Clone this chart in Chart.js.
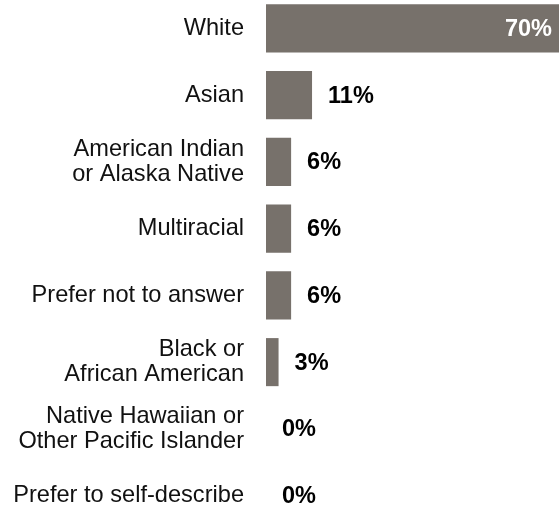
<!DOCTYPE html>
<html lang="en">

<head>
    <meta charset="UTF-8">
    <title>Race / Ethnicity</title>
    <style>
        html, body {
            margin: 0;
            padding: 0;
            background: #fff;
            overflow: hidden;
        }

        #wrap {
            position: absolute;
            left: 0;
            top: -5px;
            width: 559px;
            height: 534px;
        }
    </style>
</head>

<body>
    <div id="wrap">
        <canvas id="race_chart"></canvas>
    </div>

    <script src="https://cdn.jsdelivr.net/npm/chart.js@4/dist/chart.umd.min.js"></script>
    <script>
        const categories = [
            "White",
            "Asian",
            ["American Indian", "or Alaska Native"],
            "Multiracial",
            "Prefer not to answer",
            ["Black or", "African American"],
            ["Native Hawaiian or", "Other Pacific Islander"],
            "Prefer to self-describe"
        ];
        const percents = [70, 11, 6, 6, 6, 3, 0, 0];

        const font_family = "'Liberation Sans', Arial, sans-serif";
        const bar_color = "#77716b";

        // writes the percentage next to each bar, or inside it when the bar is the widest
        const value_labels = {
            id: "value_labels",
            afterDatasetsDraw(chart) {
                const ctx = chart.ctx;
                const meta = chart.getDatasetMeta(0);
                const values = chart.data.datasets[0].data;
                const top = Math.max(...values);
                ctx.save();
                ctx.font = "bold 23.5px " + font_family;
                ctx.textBaseline = "middle";
                meta.data.forEach((bar, i) => {
                    const text = values[i] + "%";
                    if (values[i] === top) {
                        ctx.fillStyle = "#ffffff";
                        ctx.textAlign = "right";
                        ctx.fillText(text, bar.x - 7, bar.y + 1);
                    } else {
                        ctx.fillStyle = "#000000";
                        ctx.textAlign = "left";
                        ctx.fillText(text, bar.x + 16, bar.y + 1);
                    }
                });
                ctx.restore();
            }
        };

        new Chart(document.getElementById("race_chart"), {
            type: "bar",
            data: {
                labels: categories,
                datasets: [{
                    data: percents,
                    backgroundColor: bar_color,
                    borderWidth: 0,
                    categoryPercentage: 1,
                    barPercentage: 0.72
                }]
            },
            options: {
                indexAxis: "y",
                responsive: true,
                maintainAspectRatio: false,
                animation: false,
                layout: { padding: 0 },
                plugins: {
                    legend: { display: false },
                    tooltip: { enabled: false }
                },
                scales: {
                    x: {
                        display: false,
                        min: 0,
                        max: 70
                    },
                    y: {
                        grid: { display: false, drawTicks: false },
                        border: { display: false },
                        ticks: {
                            color: "#111111",
                            padding: 22,
                            font: { family: font_family, size: 23.6, lineHeight: 1.06 }
                        },
                        afterFit(scale) {
                            // fixed label column; no extra room above/below the rows
                            scale.width = 266;
                            scale.paddingTop = 0;
                            scale.paddingBottom = 0;
                        }
                    }
                }
            },
            plugins: [value_labels]
        });
    </script>
</body>

</html>
